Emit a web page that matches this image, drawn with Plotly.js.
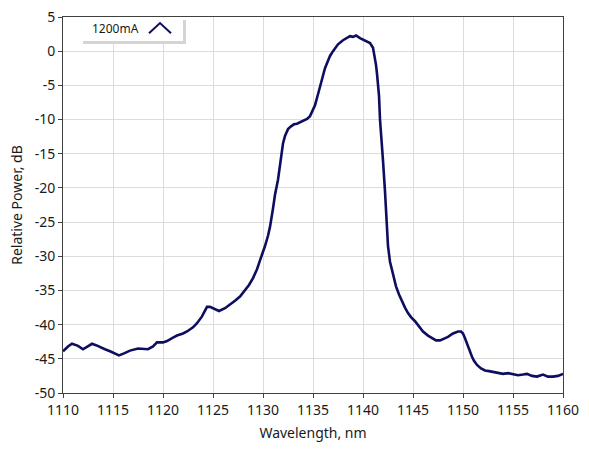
<!DOCTYPE html>
<html>
<head>
<meta charset="utf-8">
<script src="https://cdn.plot.ly/plotly-3.0.1.min.js"></script>
<style>html,body{margin:0;padding:0;background:#fff;}#chart{width:589px;height:456px;}</style>
</head>
<body>
<div id="chart"></div>
<script>
const seriesName = "1200mA";
const wavelength = [
1110.0,1110.5,1110.9,1111.5,1112.0,1112.5,1112.9,1113.3,1113.7,1114.2,
1114.7,1115.2,1115.6,1116.1,1116.7,1117.5,1118.0,1118.5,1119.0,1119.4,
1120.0,1120.4,1121.0,1121.4,1122.0,1122.4,1123.0,1123.4,1123.9,1124.4,
1124.7,1125.0,1125.3,1125.6,1126.2,1126.7,1127.2,1127.7,1128.2,1128.6,
1129.0,1129.4,1129.7,1130.0,1130.2,1130.5,1130.7,1131.0,1131.2,1131.5,
1131.7,1131.9,1132.0,1132.2,1132.5,1132.8,1133.1,1133.4,1133.7,1134.0,
1134.4,1134.7,1135.0,1135.2,1135.5,1135.7,1136.0,1136.2,1136.5,1136.7,
1137.0,1137.5,1138.0,1138.4,1138.7,1139.0,1139.3,1139.7,1140.0,1140.4,
1140.7,1141.0,1141.1,1141.3,1141.4,1141.6,1141.7,1141.9,1142.0,1142.2,
1142.3,1142.5,1142.7,1142.9,1143.1,1143.3,1143.6,1143.9,1144.2,1144.5,
1144.8,1145.2,1145.6,1146.0,1146.5,1146.9,1147.3,1147.7,1148.1,1148.5,
1149.0,1149.5,1149.8,1150.0,1150.2,1150.4,1150.6,1150.9,1151.1,1151.4,
1151.8,1152.2,1152.6,1153.0,1153.5,1154.0,1154.5,1155.0,1155.5,1156.0,
1156.4,1156.9,1157.4,1158.0,1158.5,1159.0,1159.5,1160.0
];
const relativePower = [
-43.9,-43.2,-42.8,-43.1,-43.6,-43.1,-42.8,-43.0,-43.3,-43.6,
-43.9,-44.2,-44.5,-44.2,-43.8,-43.5,-43.6,-43.6,-43.2,-42.6,
-42.6,-42.4,-41.9,-41.6,-41.3,-41.0,-40.4,-39.8,-38.8,-37.4,
-37.4,-37.6,-37.8,-38.0,-37.6,-37.1,-36.5,-35.9,-35.0,-34.2,
-33.2,-31.9,-30.6,-29.4,-28.5,-27.0,-25.7,-23.0,-21.0,-18.8,
-16.5,-14.8,-13.5,-12.4,-11.4,-11.0,-10.7,-10.6,-10.4,-10.2,
-9.9,-9.5,-8.6,-7.9,-6.3,-5.1,-3.6,-2.5,-1.4,-0.7,
0.0,1.0,1.6,1.9,2.2,2.1,2.3,1.9,1.7,1.5,
1.2,0.5,-0.2,-2.0,-3.3,-6.5,-10.0,-13.5,-16.0,-20.5,
-24.0,-28.5,-30.8,-32.0,-33.3,-34.4,-35.6,-36.6,-37.5,-38.3,
-38.9,-39.5,-40.3,-41.0,-41.6,-42.0,-42.3,-42.3,-42.1,-41.8,
-41.3,-41.0,-41.0,-41.3,-42.0,-42.8,-43.7,-44.7,-45.3,-45.9,
-46.4,-46.7,-46.8,-46.9,-47.1,-47.2,-47.1,-47.2,-47.4,-47.3,
-47.2,-47.5,-47.6,-47.3,-47.6,-47.6,-47.5,-47.2
];
const xTicks = [1110,1115,1120,1125,1130,1135,1140,1145,1150,1155,1160];
const yTicks = [5,0,-5,-10,-15,-20,-25,-30,-35,-40,-45,-50];

const lineColor = "#0e0e60";
const fontFamily = "'Noto Sans', 'Open Sans', sans-serif";

const trace = {
  x: wavelength, y: relativePower, type: "scatter", mode: "lines",
  name: seriesName, line: {color: lineColor, width: 2.6}, showlegend: false
};

const layout = {
  width: 589, height: 456,
  margin: {l: 63, r: 26, t: 17, b: 63, pad: 0},
  paper_bgcolor: "#fff", plot_bgcolor: "#fff",
  font: {family: fontFamily, size: 14, color: "#1a1a1a"},
  xaxis: {
    range: [1110, 1160], tickvals: xTicks, ticktext: xTicks.map(String),
    showgrid: true, gridcolor: "#dcdcdc", gridwidth: 1,
    showline: true, linecolor: "#404040", linewidth: 1, mirror: true,
    ticks: "outside", ticklen: 4, tickcolor: "#404040",
    zeroline: false, tickfont: {size: 14},
    title: {text: "Wavelength, nm", font: {size: 14}, standoff: 10}
  },
  yaxis: {
    range: [-50, 5], tickvals: yTicks, ticktext: yTicks.map(String),
    showgrid: true, gridcolor: "#dcdcdc", gridwidth: 1,
    showline: true, linecolor: "#404040", linewidth: 1, mirror: true,
    ticks: "outside", ticklen: 4, tickcolor: "#404040",
    zeroline: false, tickfont: {size: 14},
    title: {text: "Relative Power, dB", font: {size: 14}, standoff: 8}
  },
  shapes: [
    {type: "rect", xref: "paper", yref: "paper", x0: 0.040, x1: 0.246, y0: 0.928, y1: 0.992,
     fillcolor: "#d4d4d4", line: {width: 0}, layer: "above"},
    {type: "rect", xref: "paper", yref: "paper", x0: 0.034, x1: 0.240, y0: 0.936, y1: 0.998,
     fillcolor: "#ffffff", line: {width: 0}, layer: "above"},
    {type: "path", xref: "paper", yref: "paper",
     path: "M0.172,0.957 L0.194,0.984 L0.216,0.957",
     line: {color: lineColor, width: 2}, layer: "above"}
  ],
  annotations: [
    {xref: "paper", yref: "paper", x: 0.104, y: 0.97, text: seriesName, showarrow: false,
     xanchor: "center", yanchor: "middle", font: {size: 12, color: "#1a1a1a"}}
  ]
};

Plotly.newPlot("chart", [trace], layout, {displayModeBar: false, staticPlot: true});
</script>
</body>
</html>
